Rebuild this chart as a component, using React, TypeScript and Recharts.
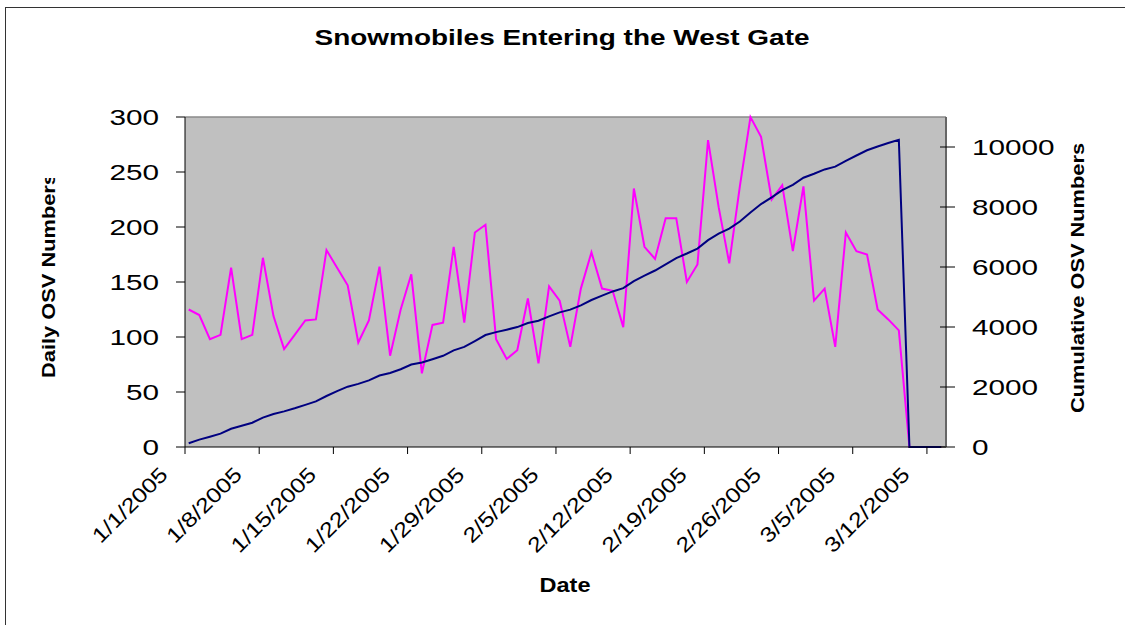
import { CartesianGrid, Line, LineChart, ReferenceLine, XAxis, YAxis } from "recharts";

// daily snowmobile (OSV) counts at the west gate, 1/1/2005 .. 3/13/2005
const DAILY = [
  125, 120, 98, 102, 163, 98, 102, 172, 119, 89,
  102, 115, 116, 179, 163, 147, 95, 115, 164, 83,
  125, 157, 67, 111, 113, 182, 113, 195, 202, 98,
  80, 88, 135, 76, 146, 133, 91, 144, 177, 144,
  142, 109, 235, 182, 171, 208, 208, 150, 166, 279,
  218, 167, 237, 300, 282, 225, 238, 178, 237, 133,
  144, 91, 195, 178, 175, 125, 116, 106, 0, 0,
  0, 0
];

const CUMULATIVE = [
  125, 245, 343, 445, 608, 706, 808, 980, 1099, 1188,
  1290, 1405, 1521, 1700, 1863, 2010, 2105, 2220, 2384, 2467,
  2592, 2749, 2816, 2927, 3040, 3222, 3335, 3530, 3732, 3830,
  3910, 3998, 4133, 4209, 4355, 4488, 4579, 4723, 4900, 5044,
  5186, 5295, 5530, 5712, 5883, 6091, 6299, 6449, 6615, 6894,
  7112, 7279, 7516, 7816, 8098, 8323, 8561, 8739, 8976, 9109,
  9253, 9344, 9539, 9717, 9892, 10017, 10133, 10239, 0, 0,
  0, 0
];

const TICK_DAYS = [0, 7, 14, 21, 28, 35, 42, 49, 56, 63, 70];
const TICK_LABELS = [
  "1/1/2005", "1/8/2005", "1/15/2005", "1/22/2005", "1/29/2005", "2/5/2005",
  "2/12/2005", "2/19/2005", "2/26/2005", "3/5/2005", "3/12/2005"
];
const LEFT_TICKS = [0, 50, 100, 150, 200, 250, 300];
const RIGHT_TICKS = [0, 2000, 4000, 6000, 8000, 10000];

// date ticks sit on the day boundary, a bit left of each point
const TICK_SHIFT = 0.35;

const FONT = "'Liberation Sans', Arial, sans-serif";

const data = DAILY.map((v, i) => ({ day: i, daily: v, cumulative: CUMULATIVE[i] }));

const XTick = (props: any) => {
  const { x, payload } = props;
  const idx = TICK_DAYS.indexOf(Math.round(payload.value + TICK_SHIFT));
  return (
    <g transform={`translate(${x - 16},476)`}>
      <text
        transform="rotate(-45) scale(1.18,1)"
        textAnchor="end"
        fontSize={21}
        fontFamily={FONT}
        fill="#000"
      >
        {TICK_LABELS[idx]}
      </text>
    </g>
  );
};

const LeftTick = (props: any) => {
  const { x, y, payload } = props;
  return (
    <text
      transform={`translate(${x},${y}) scale(1.35,1)`}
      dy={8}
      textAnchor="end"
      fontSize={22}
      fontFamily={FONT}
      fill="#000"
    >
      {payload.value}
    </text>
  );
};

const RightTick = (props: any) => {
  const { x, y, payload } = props;
  // inner half of the crossing tick mark
  const axisX = x - 26;
  return (
    <g>
      <line x1={axisX - 6} x2={axisX} y1={y} y2={y} stroke="#000" />
      <text
        transform={`translate(${x},${y}) scale(1.35,1)`}
        dy={8}
        textAnchor="start"
        fontSize={22}
        fontFamily={FONT}
        fill="#000"
      >
        {payload.value}
      </text>
    </g>
  );
};

const App = () => {
  return (
    <div
      style={{
        position: "absolute",
        left: 0,
        top: 0,
        width: 1125,
        height: 625,
        overflow: "hidden",
        background: "#fff"
      }}
    >
      <LineChart
        width={1125}
        height={625}
        data={data}
        margin={{ top: 117, right: 119, bottom: 138, left: 125 }}
      >
        <CartesianGrid fill="#C0C0C0" stroke="none" horizontal={false} vertical={false} />
        <XAxis
          type="number"
          dataKey="day"
          domain={[-TICK_SHIFT, 71.45]}
          ticks={TICK_DAYS.map((d) => d - TICK_SHIFT)}
          interval={0}
          height={40}
          tickSize={7}
          axisLine={{ stroke: "#000" }}
          tickLine={{ stroke: "#000" }}
          tick={XTick}
        />
        <YAxis
          yAxisId="left"
          domain={[0, 300]}
          ticks={LEFT_TICKS}
          interval={0}
          width={60}
          tickSize={9}
          tickMargin={17}
          axisLine={{ stroke: "#000" }}
          tickLine={{ stroke: "#000" }}
          tick={LeftTick}
        />
        <YAxis
          yAxisId="right"
          orientation="right"
          domain={[0, 11000]}
          ticks={RIGHT_TICKS}
          interval={0}
          width={60}
          tickSize={9}
          tickMargin={17}
          axisLine={{ stroke: "#666", strokeWidth: 2 }}
          tickLine={{ stroke: "#000" }}
          tick={RightTick}
        />
        <ReferenceLine yAxisId="left" y={300} stroke="#8a8a8a" strokeWidth={1.5} />
        <Line
          yAxisId="left"
          type="linear"
          dataKey="daily"
          stroke="#FF00FF"
          strokeWidth={2}
          dot={false}
          isAnimationActive={false}
        />
        <Line
          yAxisId="right"
          type="linear"
          dataKey="cumulative"
          stroke="#000080"
          strokeWidth={2}
          dot={false}
          isAnimationActive={false}
        />
      </LineChart>

      <svg
        width={1125}
        height={625}
        style={{ position: "absolute", left: 0, top: 0, pointerEvents: "none" }}
      >
        <defs>
          <clipPath id="ytitle-clip">
            <rect x={0} y={178} width={150} height={300} />
          </clipPath>
        </defs>
        {/* chart frame */}
        <line x1={5.5} y1={7} x2={5.5} y2={625} stroke="#333" />
        <line x1={5} y1={7.5} x2={1125} y2={7.5} stroke="#333" />

        <text
          x={562}
          y={45}
          textAnchor="middle"
          fontSize={22}
          fontWeight="bold"
          fontFamily={FONT}
          textLength={495}
          lengthAdjust="spacingAndGlyphs"
        >
          Snowmobiles Entering the West Gate
        </text>
        <text
          x={565}
          y={592}
          textAnchor="middle"
          fontSize={21}
          fontWeight="bold"
          fontFamily={FONT}
          textLength={51}
          lengthAdjust="spacingAndGlyphs"
        >
          Date
        </text>
        <g clipPath="url(#ytitle-clip)">
          <text
            transform="translate(55,378) rotate(-90)"
            textAnchor="start"
            fontSize={19}
            fontWeight="bold"
            fontFamily={FONT}
            textLength={205}
            lengthAdjust="spacingAndGlyphs"
          >
            Daily OSV Numbers
          </text>
        </g>
        <text
          transform="translate(1084,413) rotate(-90)"
          textAnchor="start"
          fontSize={19}
          fontWeight="bold"
          fontFamily={FONT}
          textLength={270}
          lengthAdjust="spacingAndGlyphs"
        >
          Cumulative OSV Numbers
        </text>
      </svg>
    </div>
  );
};

export default App;
